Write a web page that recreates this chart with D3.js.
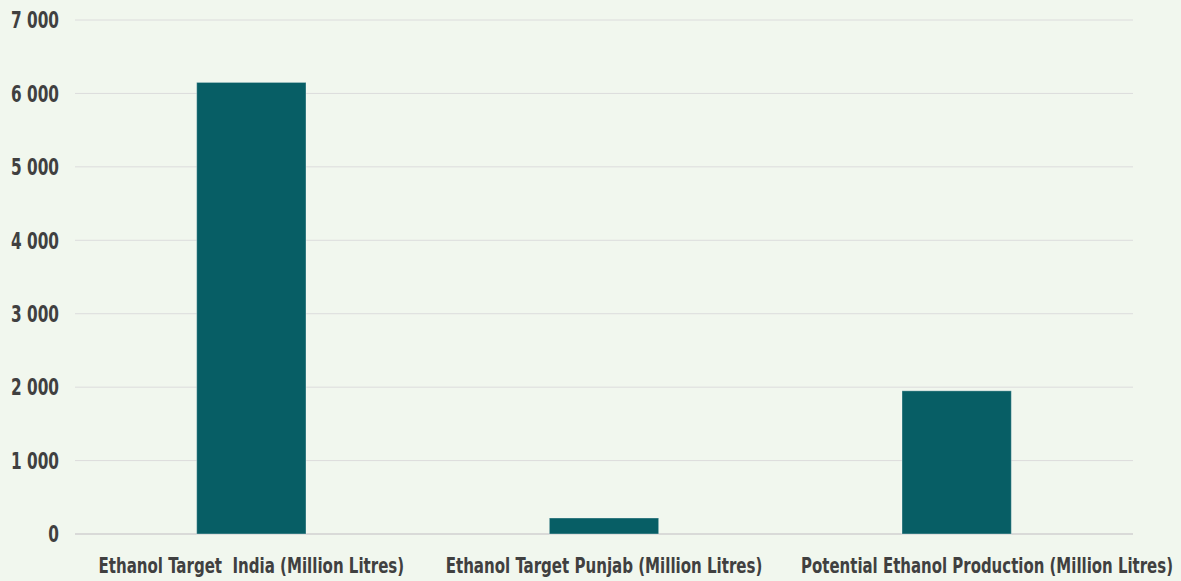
<!DOCTYPE html>
<html><head><meta charset="utf-8">
<script src="https://cdn.jsdelivr.net/npm/d3@7"></script>
<style>
html,body{margin:0;padding:0;background:#f1f7ee;}
svg{display:block;}
text{font-family:"DejaVu Sans Condensed","Liberation Sans Narrow","DejaVu Sans",sans-serif;font-stretch:condensed;font-weight:bold;fill:#404040;white-space:pre;}
</style></head>
<body>
<svg id="chart" width="1181" height="581"></svg>
<script>
const categories = ["Ethanol Target  India (Million Litres)", "Ethanol Target Punjab (Million Litres)", "Potential Ethanol Production (Million Litres)"];
const values = [6150, 218, 1950];
const yTicks = [0, 1000, 2000, 3000, 4000, 5000, 6000, 7000];

const W = 1181, H = 581;
const margin = {left: 75, right: 48, top: 20, bottom: 47};
const svg = d3.select("#chart");
svg.append("rect").attr("width", W).attr("height", H).attr("fill", "#f1f7ee");

const x = d3.scaleBand().domain(categories).range([margin.left, W - margin.right]).paddingInner(0.69).paddingOuter(0.345);
const y = d3.scaleLinear().domain([0, 7000]).range([H - margin.bottom, margin.top]);

const fmt = v => d3.format(",")(v).replace(/,/g, " ");

// grid
svg.append("g").selectAll("line").data(yTicks).join("line")
  .attr("x1", margin.left).attr("x2", W - margin.right)
  .attr("y1", d => y(d)).attr("y2", d => y(d))
  .attr("stroke", d => d === 0 ? "#d0d0d0" : "#dcdcdc").attr("stroke-width", d => d === 0 ? 1.5 : 1);

// y labels (horizontally condensed with a transform)
const yl = svg.append("g").selectAll("text").data(yTicks).join("text")
  .attr("x", 0).attr("y", 0).attr("dy", "0.36em")
  .attr("text-anchor", "end").style("font-size", "23px")
  .text(d => fmt(d));
const refW = yl.filter(d => d === 7000).node().getComputedTextLength();
const yRatio = 48 / refW;
yl.attr("transform", d => `translate(59,${y(d)}) scale(${yRatio},1)`);

// bars
svg.append("g").selectAll("rect").data(values).join("rect")
  .attr("x", (d, i) => x(categories[i])).attr("width", x.bandwidth())
  .attr("y", d => y(d)).attr("height", d => y(0) - y(d))
  .attr("fill", "#075e65").attr("stroke", "rgba(255,255,255,0.35)").attr("stroke-width", 1);

// x labels (last one pushed right so it stays clear of its neighbour)
const labelW = [306, 317, 372];
const xl = svg.append("g").selectAll("text").data(categories).join("text")
  .attr("xml:space", "preserve")
  .attr("x", 0).attr("y", 0).attr("text-anchor", "middle").style("font-size", "21px")
  .text(d => d);
xl.each(function(d, i) {
  const w = this.getComputedTextLength();
  const cx = i === categories.length - 1 ? W - 8 - labelW[i] / 2 : x(d) + x.bandwidth() / 2;
  d3.select(this).attr("transform", `translate(${cx},573) scale(${labelW[i] / w},1)`);
});
</script>
</body></html>
